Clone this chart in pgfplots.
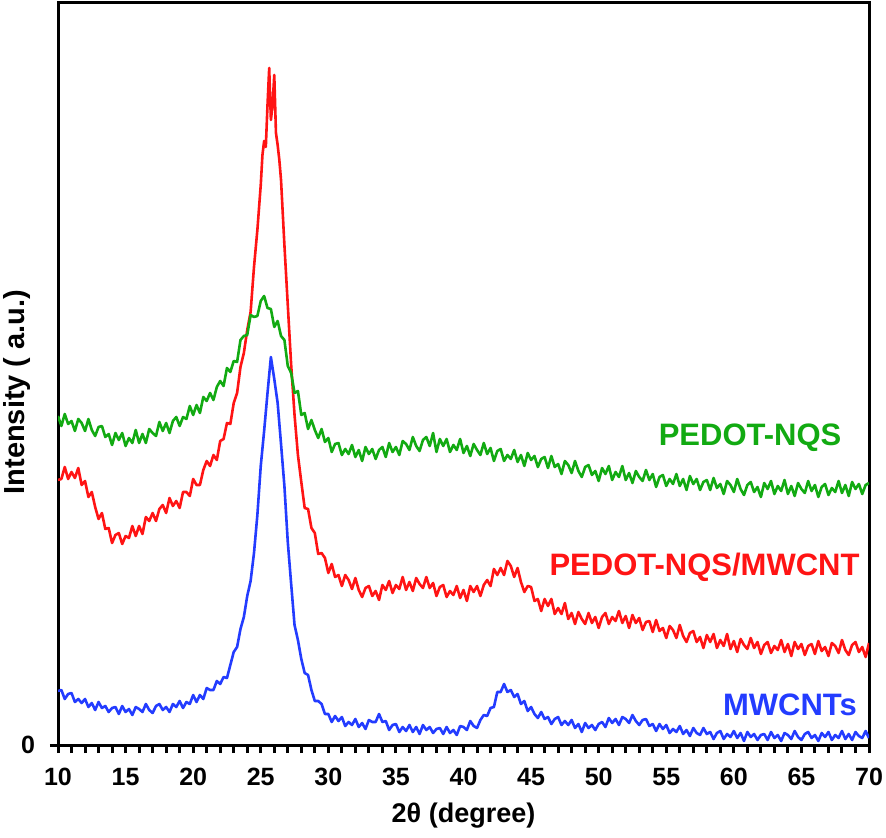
\documentclass[border=0pt]{standalone}
\usepackage{fontspec}
\setmainfont{Liberation Sans}
\usepackage{pgfplots}
\pgfplotsset{compat=1.18}
\usepackage{pgfplotstable}
\definecolor{cg}{RGB}{18,170,18}
\definecolor{cr}{RGB}{255,20,20}
\definecolor{cb}{RGB}{35,60,255}

\pgfplotstableread{
x g b
10 329 54
10.25 319 55
10.5 331 46
10.75 321 51
11 324 52
11.25 314 43
11.5 326 46
11.75 322 42
12 314 46
12.25 326 38
12.5 315 42
12.75 309 35
13 318 43
13.25 319 37
13.5 308 39
13.75 311 33
14 300 37
14.25 312 38
14.5 305 31
14.75 312 39
15 299 33
15.25 307 36
15.5 302 30
15.75 315 38
16 302 36
16.25 311 33
16.5 302 41
16.75 316 35
17 312 32
17.25 309 39
17.5 323 41
17.75 314 35
18 322 38
18.25 312 33
18.5 324 41
18.75 328 38
19 319 44
19.25 328 37
19.5 326 43
19.75 339 41
20 330 50
20.25 340 43
20.5 332 50
20.75 348 46
21 344 57
21.25 352 55
21.5 345 55
21.75 358 64
22 364 61
22.25 359 68
22.5 377 67
22.75 373 80
23 384 93
23.25 383 98
23.5 405 116
23.75 409 128
24 410 149
24.25 430 164
24.5 428 192
24.75 429 230
25 444 279
25.25 449 314
25.5 437 352
25.75 436 388
26 418 366
26.25 424 342
26.5 409 301
26.75 405 259
27 379 203
27.25 372 161
27.5 352 120
27.75 354 105
28 330 86
28.25 332 72
28.5 316 70
28.75 325 55
29 315 44
29.25 307 44
29.5 316 41
29.75 303 31
30 307 31
30.25 293 23
30.5 301 29
30.75 302 24
31 290 28
31.25 296 19
31.5 291 23
31.75 300 20
32 288 26
32.25 295 18
32.5 284 22
32.75 298 16
33 291 25
33.25 296 23
33.5 286 23
33.75 295 31
34 298 23
34.25 288 24
34.5 302 15
34.75 293 20
35 298 21
35.25 290 13
35.5 304 18
35.75 301 14
36 295 20
36.25 308 13
36.5 299 18
36.75 294 11
37 305 20
37.25 308 15
37.5 299 18
37.75 312 12
38 293 16
38.25 306 17
38.5 299 11
38.75 306 18
39 293 12
39.25 300 15
39.5 295 10
39.75 306 19
40 292 18
40.25 299 15
40.5 289 24
40.75 301 19
41 295 17
41.25 290 25
41.5 302 30
41.75 291 29
42 297 37
42.25 284 38
42.5 294 53
42.75 296 53
43 284 61
43.25 290 53
43.5 286 55
43.75 295 48
44 283 51
44.25 290 41
44.5 279 44
44.75 292 34
45 285 38
45.25 289 31
45.5 278 27
45.75 286 33
46 288 26
46.25 277 28
46.5 289 21
46.75 278 26
47 281 28
47.25 271 20
47.5 284 24
47.75 280 20
48 272 25
48.25 284 17
48.5 274 21
48.75 268 13
49 278 22
49.25 280 17
49.5 270 20
49.75 274 15
50 264 21
50.25 277 23
50.5 271 18
50.75 279 27
51 265 22
51.25 273 26
51.5 268 20
51.75 279 28
52 265 26
52.25 272 22
52.5 262 30
52.75 274 24
53 268 20
53.25 264 25
53.5 275 26
53.75 265 19
54 271 21
54.25 258 14
54.5 268 21
54.75 270 16
55 259 20
55.25 266 12
55.5 261 16
55.75 271 13
56 259 19
56.25 266 11
56.5 255 15
56.75 269 9
57 261 17
57.25 266 12
57.5 255 10
57.75 263 17
58 265 11
58.25 255 13
58.5 267 6
58.75 257 12
59 261 14
59.25 251 6
59.5 264 11
59.75 260 8
60 253 14
60.25 266 7
60.5 256 12
60.75 250 4
61 260 13
61.25 263 8
61.5 253 11
61.75 258 5
62 248 10
62.25 262 11
62.5 256 5
62.75 264 13
63 251 7
63.25 259 10
63.5 254 4
63.75 265 12
64 251 10
64.25 259 6
64.5 249 14
64.75 262 8
65 256 5
65.25 252 11
65.5 264 13
65.75 254 7
66 260 10
66.25 248 4
66.5 258 12
66.75 261 8
67 250 13
67.25 257 5
67.5 253 10
67.75 264 7
68 252 14
68.25 260 6
68.5 249 11
68.75 263 5
69 256 13
69.25 261 9
69.5 251 7
69.75 260 14
70 262 7
}\gbtable

\pgfplotstableread{
x r
10 265
10.25 266
10.5 278
10.75 266
11 273
11.25 267
11.5 277
11.75 260
12 264
12.25 248
12.5 253
12.75 238
13 226
13.25 232
13.5 216
13.75 217
14 202
14.25 210
14.5 212
14.75 201
15 209
15.25 207
15.5 219
15.75 209
16 219
16.25 211
16.5 228
16.75 224
17 232
17.25 224
17.5 236
17.75 240
18 232
18.25 247
18.5 239
18.75 244
19 237
19.25 253
19.5 253
19.75 249
20 266
20.25 260
20.5 260
20.75 275
21 284
21.25 279
21.5 290
21.75 285
22 304
22.25 306
22.5 322
22.75 321
23 342
23.25 352
23.5 378
23.75 392
24 415
24.25 433
24.5 478
24.75 515
25 560
25.125 590
25.25 604
25.375 598
25.5 640
25.625 677
25.75 625
25.875 640
26 670
26.125 612
26.25 600
26.375 585
26.5 565
26.75 500
27 440
27.25 380
27.5 330
27.75 290
28 263
28.25 237
28.5 236
28.75 217
29 212
29.25 191
29.5 192
29.75 187
30 172
30.25 181
30.5 168
30.75 170
31 159
31.25 170
31.5 165
31.75 156
32 167
32.25 155
32.5 148
32.75 157
33 159
33.25 149
33.5 154
33.75 145
34 160
34.25 155
34.5 164
34.75 152
35 160
35.25 156
35.5 168
35.75 155
36 163
36.25 154
36.5 167
36.75 161
37 157
37.25 168
37.5 157
37.75 162
38 149
38.25 158
38.5 160
38.75 148
39 154
39.25 150
39.5 159
39.75 147
40 155
40.25 144
40.5 159
40.75 153
41 159
41.25 149
41.5 160
41.75 165
42 159
42.25 176
42.5 170
42.75 177
43 170
43.25 184
43.5 179
43.75 168
44 177
44.25 163
44.5 153
44.75 159
45 158
45.25 144
45.5 146
45.75 134
46 146
46.25 139
46.5 146
46.75 131
47 137
47.25 131
47.5 142
47.75 126
48 132
48.25 121
48.5 133
48.75 126
49 121
49.25 132
49.5 122
49.75 128
50 117
50.25 128
50.5 132
50.75 121
51 128
51.25 124
51.5 134
51.75 122
52 129
52.25 117
52.5 130
52.75 122
53 127
53.25 115
53.5 123
53.75 124
54 113
54.25 125
54.5 114
54.75 117
55 107
55.25 119
55.5 115
55.75 107
56 120
56.25 109
56.5 103
56.75 112
57 114
57.25 103
57.5 108
57.75 97
58 110
58.25 103
58.5 111
58.75 97
59 105
59.25 99
59.5 111
59.75 96
60 104
60.25 93
60.5 106
60.75 100
61 96
61.25 107
61.5 97
61.75 103
62 91
62.25 100
62.5 103
62.75 92
63 99
63.25 95
63.5 105
63.75 93
64 101
64.25 89
64.5 103
64.75 96
65 101
65.25 90
65.5 99
65.75 101
66 91
66.25 104
66.5 94
66.75 98
67 89
67.25 102
67.5 99
67.75 92
68 105
68.25 95
68.5 90
68.75 100
69 103
69.25 93
69.5 98
69.75 88
70 102
}\rtable

\begin{document}
\begin{tikzpicture}
\begin{axis}[
  scale only axis,
  width=811pt, height=742pt,
  xmin=10, xmax=70, ymin=0, ymax=742,
  xtick={10,15,...,70},
  minor x tick num=4,
  ytick={0},
  xtick pos=left, ytick pos=left,
  tick align=outside,
  major tick length=8pt, minor tick length=8pt,
  axis line style={line width=3pt},
  every tick/.style={black, line width=3pt},
  every minor tick/.style={black, line width=3pt},
  tick label style={font=\fontsize{25}{30}\selectfont\bfseries},
  /pgf/number format/assume math mode=true,
  xticklabel style={anchor=center, yshift=-24pt},
  yticklabel style={anchor=center, xshift=-22pt},
]
\addplot[cr, line width=2.6pt, line join=round] table[x=x, y=r]{\rtable};
\addplot[cg, line width=2.6pt, line join=round] table[x=x, y=g]{\gbtable};
\addplot[cb, line width=2.6pt, line join=round] table[x=x, y=b]{\gbtable};
\node[text=cg, font=\fontsize{31}{36}\selectfont\bfseries] at (axis cs:61.2,307) {PEDOT-NQS};
\node[text=cr, font=\fontsize{31}{36}\selectfont\bfseries] at (axis cs:57.83,178) {PEDOT-NQS/MWCNT};
\node[text=cb, font=\fontsize{31}{36}\selectfont\bfseries] at (axis cs:64.15,40) {MWCNTs};
\end{axis}
\node[rotate=90, font=\fontsize{29}{34}\selectfont\bfseries] at ([xshift=-41pt, yshift=-18pt]current axis.west) {Intensity ( a.u.)};
\node[font=\fontsize{27}{32}\selectfont\bfseries] at ([yshift=-71pt]current axis.south) {2θ (degree)};
\pgfresetboundingbox
\path ([xshift=-58pt,yshift=-92pt]current axis.south west) rectangle ([xshift=17pt,yshift=3pt]current axis.north east);
\end{tikzpicture}
\end{document}
